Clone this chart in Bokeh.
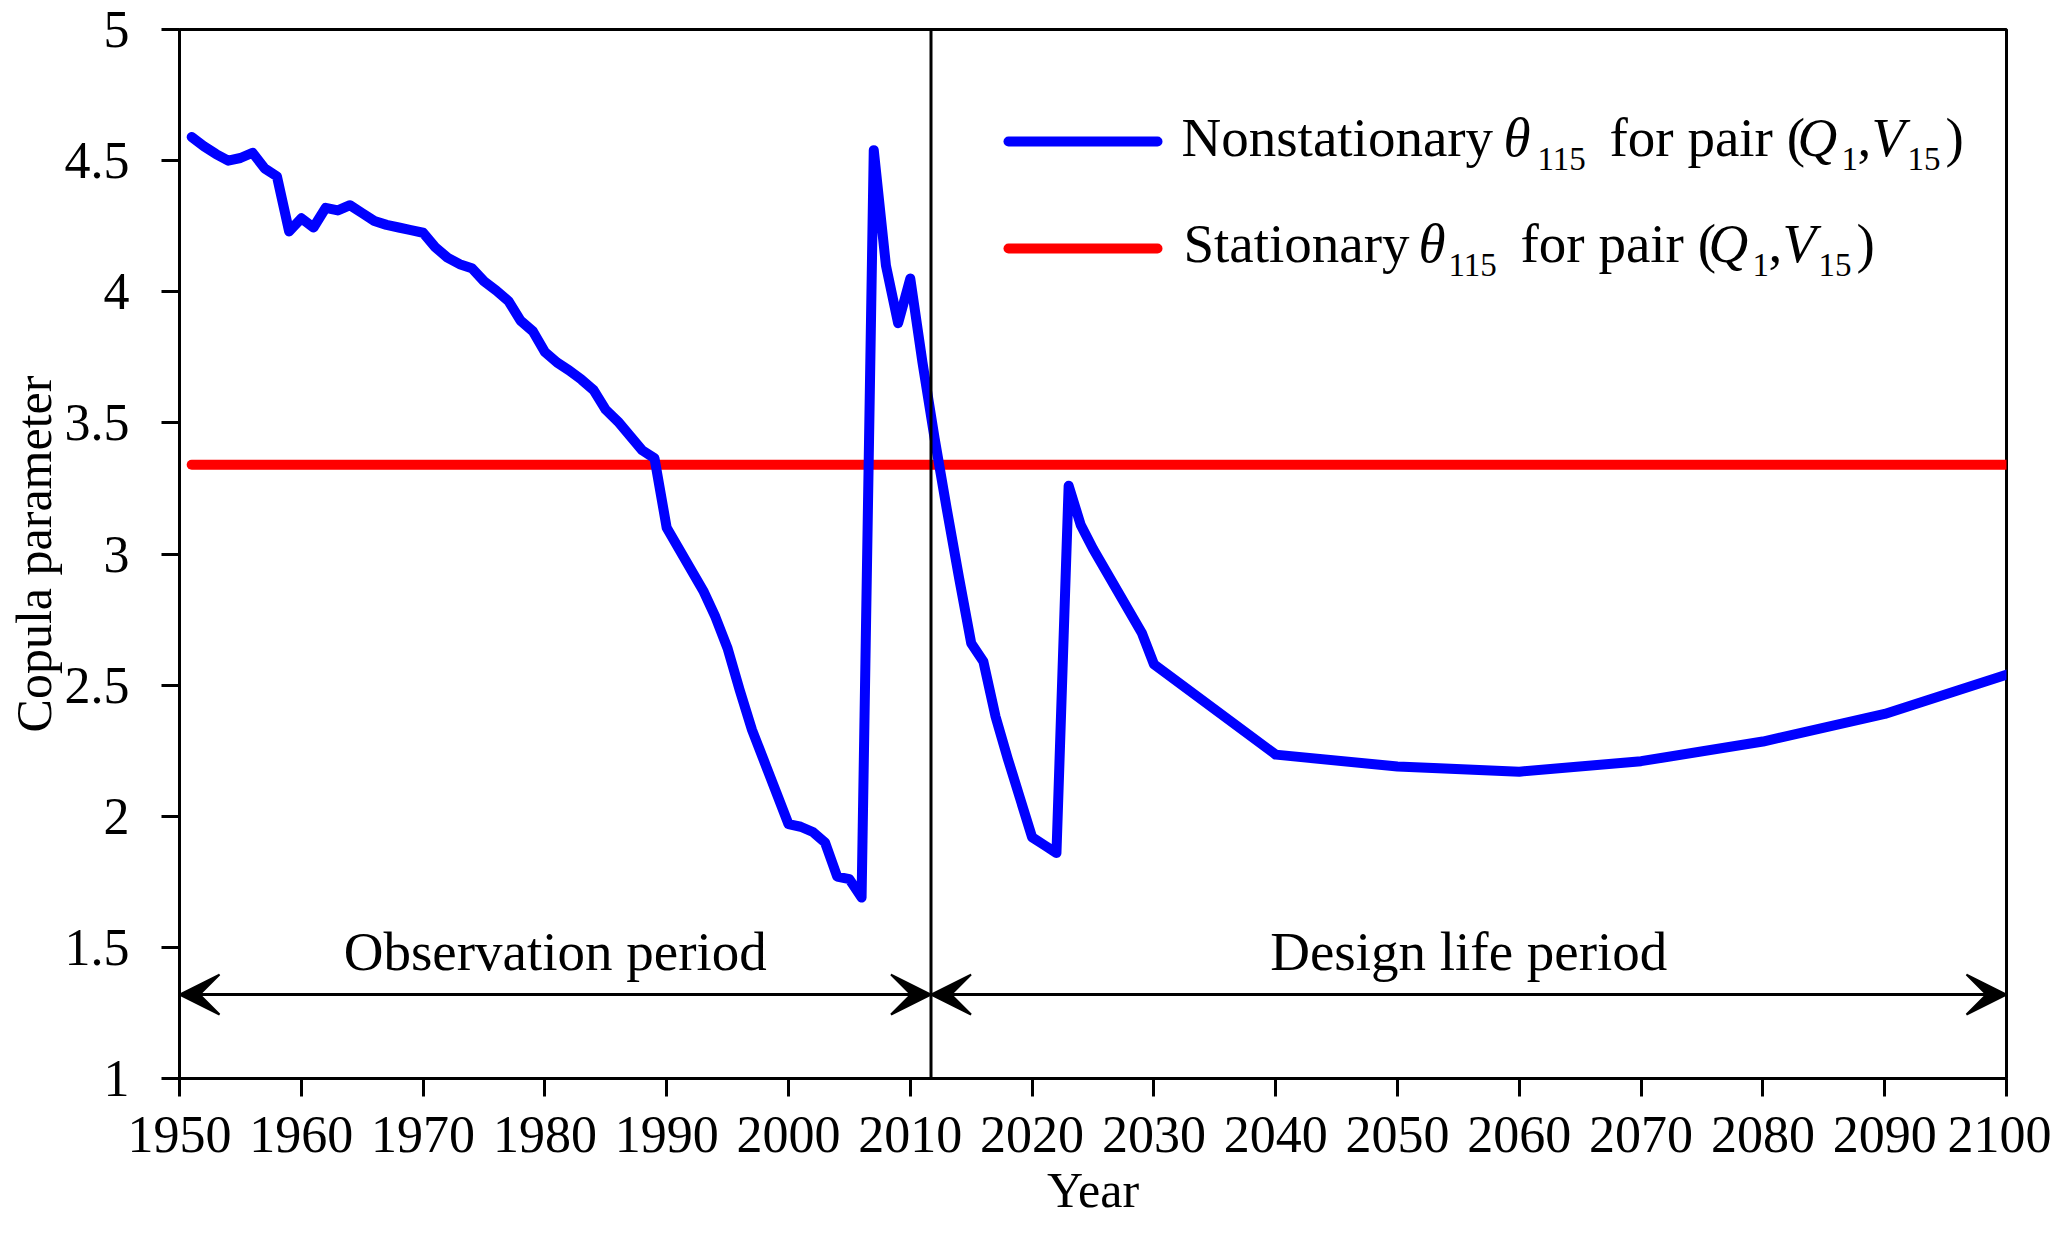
from bokeh.plotting import figure
from bokeh.models import Range1d, FixedTicker, Span, Arrow, VeeHead, Label
from bokeh.embed import file_html
from bokeh.resources import INLINE

# nonstationary copula parameter theta_115
years = [1951, 1952, 1953, 1954, 1955, 1956, 1957, 1958, 1959, 1960,
         1961, 1962, 1963, 1964, 1965, 1966, 1967, 1968, 1969, 1970,
         1971, 1972, 1973, 1974, 1975, 1976, 1977, 1978, 1979, 1980,
         1981, 1982, 1983, 1984, 1985, 1986, 1987, 1988, 1989, 1990,
         1991, 1992, 1993, 1994, 1995, 1996, 1997, 1998, 1999, 2000,
         2001, 2002, 2003, 2004, 2005, 2006, 2007, 2008, 2009, 2010,
         2011, 2012, 2013, 2014, 2015, 2016, 2017, 2018, 2019, 2020,
         2021, 2022, 2023, 2024, 2025, 2026, 2027, 2028, 2029, 2030,
         2040, 2050, 2060, 2070, 2080, 2090, 2100]
theta_ns = [4.59, 4.555, 4.525, 4.50, 4.51, 4.53, 4.47, 4.44, 4.23, 4.28,
            4.245, 4.32, 4.31, 4.33, 4.30, 4.27, 4.255, 4.245, 4.235, 4.225,
            4.17, 4.13, 4.105, 4.09, 4.04, 4.005, 3.965, 3.89, 3.85, 3.77,
            3.73, 3.70, 3.665, 3.625, 3.55, 3.505, 3.45, 3.395, 3.365, 3.10,
            3.02, 2.94, 2.86, 2.76, 2.64, 2.48, 2.33, 2.21, 2.09, 1.97,
            1.96, 1.94, 1.90, 1.77, 1.76, 1.69, 4.54, 4.10, 3.88, 4.05,
            3.73, 3.44, 3.17, 2.91, 2.66, 2.59, 2.38, 2.22, 2.07, 1.92,
            1.89, 1.86, 3.26, 3.11, 3.02, 2.94, 2.86, 2.78, 2.70, 2.58,
            2.235, 2.19, 2.17, 2.21, 2.285, 2.39, 2.54]

# stationary theta_115
stat_years = [1951, 2100]
theta_st = [3.34, 3.34]

x_ticks = [1950, 1960, 1970, 1980, 1990, 2000, 2010, 2020, 2030, 2040,
           2050, 2060, 2070, 2080, 2090, 2100]
y_ticks = [1, 1.5, 2, 2.5, 3, 3.5, 4, 4.5, 5]
y_tick_labels = ["1", "1.5", "2", "2.5", "3", "3.5", "4", "4.5", "5"]

obs_start = 1950
split_year = 2011.7
design_end = 2100
arrow_y = 1.32

FONT = "Liberation Serif"
BLUE = "#0000FF"
RED = "#FF0000"

W, H = 2051, 1221
FRAME_L, FRAME_R, FRAME_T, FRAME_B = 179, 2006, 29, 1078
X0, X1, Y0, Y1 = 1950, 2100, 1, 5


def x_at(px):
    return X0 + (px - FRAME_L) * (X1 - X0) / (FRAME_R - FRAME_L)


def y_at(py):
    return Y1 - (py - FRAME_T) * (Y1 - Y0) / (FRAME_B - FRAME_T)


p = figure(
    width=W, height=H,
    x_range=Range1d(X0, X1), y_range=Range1d(Y0, Y1),
    output_backend="svg", toolbar_location=None, tools="",
    min_border_left=FRAME_L, min_border_right=W - FRAME_R,
    min_border_top=FRAME_T, min_border_bottom=H - FRAME_B,
)
p.background_fill_color = "white"
p.border_fill_color = "white"
p.outline_line_color = "black"
p.outline_line_width = 3
p.grid.grid_line_color = None

p.xaxis.ticker = FixedTicker(ticks=x_ticks)
p.yaxis.ticker = FixedTicker(ticks=y_ticks)
p.yaxis.major_label_overrides = dict(zip(y_ticks, y_tick_labels))
for ax in (p.xaxis, p.yaxis):
    ax.axis_line_width = 3
    ax.axis_line_color = "black"
    ax.major_tick_line_width = 3
    ax.major_tick_line_color = "black"
    ax.major_tick_out = 18
    ax.major_tick_in = 0
    ax.minor_tick_line_color = None
    ax.major_label_text_font = FONT
    ax.major_label_text_font_size = "52px"
    ax.major_label_text_color = "black"
    ax.axis_label_text_font = FONT
    ax.axis_label_text_font_size = "50px"
    ax.axis_label_text_font_style = "normal"
    ax.axis_label_text_color = "black"
p.xaxis.major_label_standoff = 20
p.xaxis.axis_label_standoff = 7
p.yaxis.major_label_standoff = 32
p.yaxis.axis_label_standoff = 0
p.xaxis.axis_label = "Year"
p.yaxis.axis_label = "Copula parameter"

p.line(stat_years, theta_st, line_color=RED, line_width=10, line_cap="round")
p.line(years, theta_ns, line_color=BLUE, line_width=10,
       line_cap="round", line_join="round")

p.add_layout(Span(location=split_year, dimension="height",
                  line_color="black", line_width=3))

for a, b in ((obs_start, split_year), (split_year, design_end)):
    p.add_layout(Arrow(
        start=VeeHead(size=40, fill_color="black", fill_alpha=1,
                      line_color="black", line_width=2),
        end=VeeHead(size=40, fill_color="black", fill_alpha=1,
                    line_color="black", line_width=2),
        x_start=a, y_start=arrow_y, x_end=b, y_end=arrow_y,
        line_color="black", line_width=3))


def add_text(x, baseline_px, text, size=55, style="normal", align="left"):
    # labels come out about 0.355 em below their anchor, so lift the anchor
    p.add_layout(Label(x=x, y=y_at(baseline_px - 0.355 * size), text=text,
                       text_font=FONT, text_font_size=f"{size}px",
                       text_font_style=style, text_color="black",
                       text_baseline="alphabetic", text_align=align))


add_text((obs_start + split_year) / 2, 971, "Observation period",
         align="center")
add_text((split_year + design_end) / 2, 971, "Design life period",
         align="center")

# legend: swatches, then rich text pieces (x px, text, size, style, subscript)
for color, py in ((BLUE, 141), (RED, 248)):
    p.line([x_at(1008), x_at(1157)], [y_at(py), y_at(py)], line_color=color,
           line_width=10, line_cap="round")

legend_rows = [
    (157, 170, [(1181, "Nonstationary", 55, "normal", False),
                (1503, "θ", 55, "italic", False),
                (1537, "115", 33, "normal", True),
                (1609, "for pair (", 55, "normal", False),
                (1797, "Q", 55, "italic", False),
                (1841, "1", 33, "normal", True),
                (1857, ",", 55, "normal", False),
                (1871, "V", 55, "italic", False),
                (1907, "15", 33, "normal", True),
                (1945, ")", 55, "normal", False)]),
    (263, 276, [(1183, "Stationary", 55, "normal", False),
                (1418, "θ", 55, "italic", False),
                (1448, "115", 33, "normal", True),
                (1520, "for pair (", 55, "normal", False),
                (1708, "Q", 55, "italic", False),
                (1752, "1", 33, "normal", True),
                (1768, ",", 55, "normal", False),
                (1782, "V", 55, "italic", False),
                (1818, "15", 33, "normal", True),
                (1856, ")", 55, "normal", False)]),
]
for base_main, base_sub, pieces in legend_rows:
    for px, text, size, style, sub in pieces:
        add_text(x_at(px), base_sub if sub else base_main, text,
                 size=size, style=style)

open("out.html", "w").write(file_html(p, INLINE))
